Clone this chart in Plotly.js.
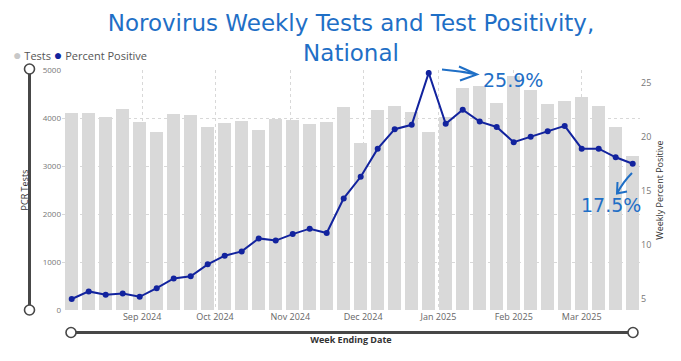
<!DOCTYPE html>
<html><head><meta charset="utf-8">
<script src="https://cdn.plot.ly/plotly-3.0.1.min.js"></script>
<style>html,body{margin:0;padding:0;background:#fff}#chart{width:681px;height:361px}</style>
</head><body><div id="chart"></div>
<script>
const weekEnding = ['2024-08-03','2024-08-10','2024-08-17','2024-08-24','2024-08-31',
  '2024-09-07','2024-09-14','2024-09-21','2024-09-28',
  '2024-10-05','2024-10-12','2024-10-19','2024-10-26',
  '2024-11-02','2024-11-09','2024-11-16','2024-11-23','2024-11-30',
  '2024-12-07','2024-12-14','2024-12-21','2024-12-28',
  '2025-01-04','2025-01-11','2025-01-18','2025-01-25',
  '2025-02-01','2025-02-08','2025-02-15','2025-02-22',
  '2025-03-01','2025-03-08','2025-03-15','2025-03-22'];
const pcrTests = [4110,4110,4020,4190,3920,3710,4080,4070,3810,3900,3940,3760,3970,3950,3880,3920,4230,3480,
  4170,4250,4130,3710,4020,4630,4660,4310,4880,4580,4290,4360,4440,4240,3810,3210];
const percentPositive = [5.0,5.7,5.4,5.5,5.2,6.0,6.9,7.1,8.2,9.0,9.4,10.6,10.4,11.0,11.5,11.1,14.3,16.3,
  18.9,20.7,21.1,25.9,21.2,22.5,21.4,20.9,19.5,20.0,20.5,21.0,18.9,18.9,18.1,17.5];
const monthTicks = ['2024-09-01','2024-10-01','2024-11-01','2024-12-01','2025-01-01','2025-02-01','2025-03-01'];
const monthLabels = ['Sep 2024','Oct 2024','Nov 2024','Dec 2024','Jan 2025','Feb 2025','Mar 2025'];
const testTicks = [0,1000,2000,3000,4000,5000];
const pctTicks = [5,10,15,20,25];

const W=681,H=361,L=62,R=41,T=70,B=51;
const pw=W-L-R, ph=H-T-B;
const px = x => (x-L)/pw;
const py = y => (H-B-y)/ph;
const blue = '#1F6FC6';
const sliderCol = '#474747';
const tickFont = {family:'Open Sans, sans-serif', size:8, color:'#777'};

const peak = Math.max(...percentPositive);
const last = percentPositive[percentPositive.length-1];

const traces = [
  {type:'bar', x:weekEnding, y:pcrTests, name:'Tests', marker:{color:'#D9D9D9'},
   width:5.5*86400000, yaxis:'y', hoverinfo:'x+y'},
  {type:'scatter', mode:'lines+markers', x:weekEnding, y:percentPositive, name:'Percent Positive',
   yaxis:'y2', line:{color:'#12239E', width:2}, marker:{color:'#12239E', size:6}}
];

function circ(cx, cy){
  return {type:'circle', xref:'paper', yref:'paper', xsizemode:'pixel', ysizemode:'pixel',
    xanchor:px(cx), yanchor:py(cy), x0:-5, x1:5, y0:-5, y1:5,
    fillcolor:'#fff', line:{color:sliderCol, width:1.6}, layer:'above'};
}
function P(x,y){return px(x).toFixed(5)+','+py(y).toFixed(5);}

const shapes = [
  {type:'line', xref:'paper', yref:'paper', x0:px(29.5), x1:px(29.5), y0:py(69), y1:py(310),
   line:{color:sliderCol, width:3}, layer:'above'},
  circ(29.5,69), circ(29.5,310),
  {type:'line', xref:'paper', yref:'paper', x0:px(71), x1:px(633), y0:py(332.5), y1:py(332.5),
   line:{color:sliderCol, width:3}, layer:'above'},
  circ(71,332.5), circ(633,332.5),
  {type:'path', xref:'paper', yref:'paper', layer:'above', line:{color:blue, width:2},
   path:'M'+P(442,69.5)+' Q'+P(460,71)+' '+P(477,74.5)+' M'+P(459,66.5)+' L'+P(477,74.5)+' L'+P(460,80.5)},
  {type:'path', xref:'paper', yref:'paper', layer:'above', line:{color:blue, width:2},
   path:'M'+P(632,173)+' Q'+P(623,182)+' '+P(617,193.5)+' M'+P(617.5,182)+' L'+P(617,193.5)+' L'+P(627,191.5)}
];

const annotations = [
  {xref:'paper', yref:'paper', x:px(11), y:py(54), xanchor:'left', yanchor:'middle', showarrow:false,
   text:'<span style="color:#C8C8C8;font-size:14px">●</span> Tests <span style="color:#12239E;font-size:14px">●</span> Percent Positive',
   font:{family:'Open Sans, sans-serif', size:11, color:'#555'}},
  {xref:'paper', yref:'paper', x:px(513), y:py(80), xanchor:'center', yanchor:'middle', showarrow:false,
   text:peak.toFixed(1)+'%', font:{family:'DejaVu Sans, sans-serif', size:19, color:blue}},
  {xref:'paper', yref:'paper', x:px(610.5), y:py(205), xanchor:'center', yanchor:'middle', showarrow:false,
   text:last.toFixed(1)+'%', font:{family:'DejaVu Sans, sans-serif', size:19, color:blue}}
];

const layout = {
  width:W, height:H, margin:{l:L, r:R, t:T, b:B, pad:0},
  paper_bgcolor:'#fff', plot_bgcolor:'#fff', showlegend:false, bargap:0,
  title:{text:'Norovirus Weekly Tests and Test Positivity,<br>National', x:0.5, xanchor:'center',
    xref:'paper', y:1-31/H, yref:'container', yanchor:'top',
    font:{family:'DejaVu Sans, sans-serif', size:23, color:blue}},
  xaxis:{type:'date', range:['2024-07-30','2025-03-25'], tickvals:monthTicks, ticktext:monthLabels,
    showgrid:true, gridcolor:'#D8D8D8', griddash:'dot', gridwidth:1, zeroline:false, showline:false,
    ticks:'', tickfont:{family:'Open Sans, sans-serif', size:9, color:'#666'},
    title:{text:'Week Ending Date', standoff:14, font:{family:'Open Sans, sans-serif', size:9, color:'#333', weight:'bold'}}},
  yaxis:{range:[0,5000], tickvals:testTicks, showgrid:true, gridcolor:'#D8D8D8', griddash:'dot',
    zeroline:false, showline:false, ticks:'', tickfont:tickFont,
    title:{text:'PCR Tests', standoff:12, font:{family:'Open Sans, sans-serif', size:9, color:'#333'}}},
  yaxis2:{overlaying:'y', side:'right', range:[3.98,26.17], tickvals:pctTicks, showgrid:false,
    zeroline:false, showline:false, ticks:'', tickfont:{family:'Open Sans, sans-serif', size:9, color:'#777'},
    title:{text:'Weekly Percent Positive', standoff:6, font:{family:'Open Sans, sans-serif', size:9, color:'#333'}}},
  shapes:shapes, annotations:annotations
};

Plotly.newPlot('chart', traces, layout, {displayModeBar:false, staticPlot:true});
</script></body></html>
